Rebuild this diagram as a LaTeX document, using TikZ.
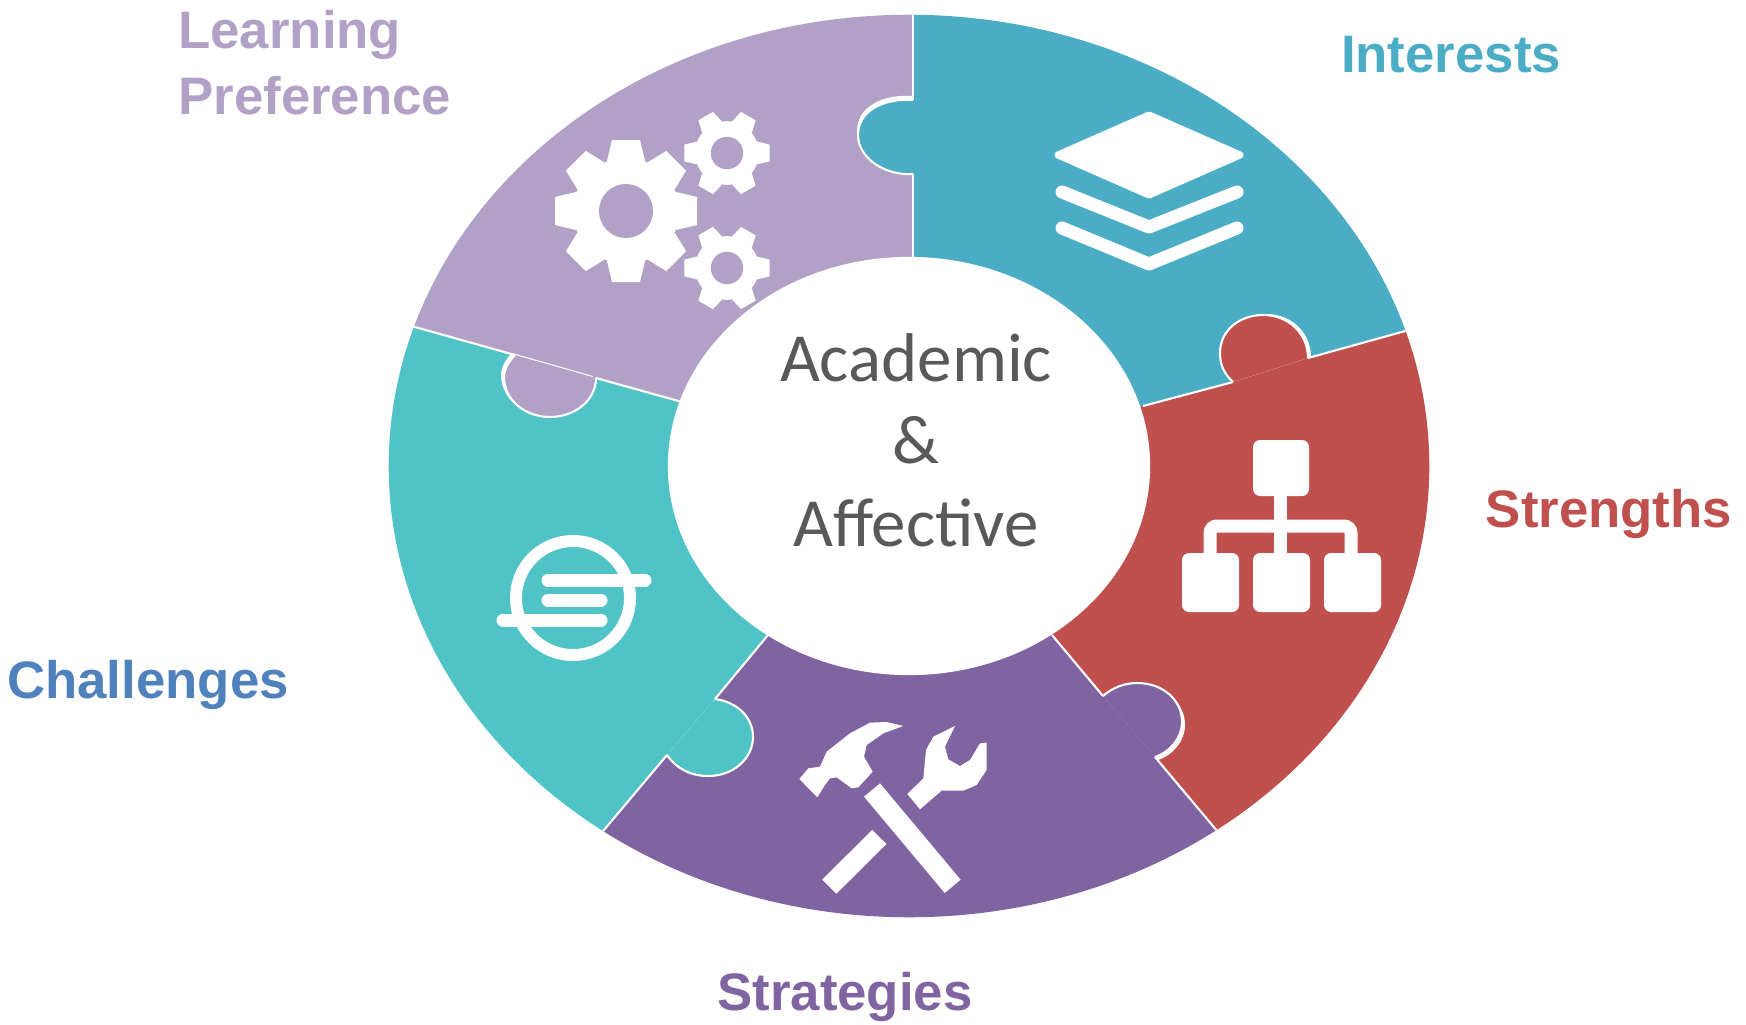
\documentclass[tikz,border=0pt]{standalone}
\usepackage{fontspec}
\setmainfont{Liberation Sans}
\newfontfamily\hubfont{Carlito}
\usetikzlibrary{shapes.geometric}

\definecolor{lilac}{HTML}{B2A1C7}
\definecolor{sky}{HTML}{4BACC6}
\definecolor{brick}{HTML}{C0504D}
\definecolor{violet}{HTML}{8064A2}
\definecolor{aqua}{HTML}{4FC3C6}
\definecolor{steel}{HTML}{4F81BD}
\definecolor{hubgray}{HTML}{595959}

\tikzset{
  seam/.style={white, line width=0.6pt},
  iconline/.style={white, line width=3.7pt, line cap=round, line join=round},
  puzzlelabel/.style={font=\fontsize{15}{18.7}\selectfont\bfseries, align=left},
}

\newcommand{\puzzletab}[3]{%
  \fill[white, shift={#2}] #3 -- cycle;
  \fill[#1] #3 -- cycle;
  \draw[seam] #3;
}
\newcommand{\gearicon}[3]{%
  \begin{scope}[shift={#1}, scale=#2]
    \fill[white] (0,0) circle (0.53cm);
    \foreach \a in {0,#3,...,359}
    \fill[white, rotate=\a] (50,-19) -- (71,-14) -- (71,14) -- (50,19) -- cycle;
    \fill[lilac] (0,0) circle (0.27cm);
  \end{scope}
}

\begin{document}
\begin{tikzpicture}[x=0.01cm, y=-0.01cm]
  \useasboundingbox (0,0) rectangle (1746,1024);

  \begin{scope}
    \clip (909,466) ellipse [x radius=5.2cm, y radius=4.51cm];
    \fill[lilac] (913,-20) -- (913,466) -- (682,402) -- (596,378) -- (515,355) -- (200,267) -- (200,-20) -- cycle;
    \fill[sky] (913,-20) -- (1600,-20) -- (1600,277) -- (1308,358) -- (1233,382) -- (1143,406) -- (913,466) -- cycle;
    \fill[brick] (1600,277) -- (1308,358) -- (1233,382) -- (1143,406) -- (909,466) -- (1052,635) -- (1103,696) -- (1155,757) -- (1359,1000) -- (1600,1000) -- cycle;
    \fill[violet] (909,466) -- (1052,635) -- (1103,696) -- (1155,757) -- (1359,1000) -- (461,1000) -- (667,755) -- (715,699) -- (768,635) -- cycle;
    \fill[aqua] (909,466) -- (768,635) -- (715,699) -- (667,755) -- (461,1000) -- (200,1000) -- (200,267) -- (515,355) -- (596,378) -- (682,402) -- cycle;

    % white joints between the pieces
    \draw[seam] (913,-20) -- (913,100) (913,174) -- (913,300);
    \draw[seam] (1143,406) -- (1233,382) (1308,358) -- (1600,277);
    \draw[seam] (1052,635) -- (1103,696) (1155,757) -- (1359,1000);
    \draw[seam] (768,635) -- (715,699) (667,755) -- (461,1000);
    \draw[seam] (682,402) -- (596,378) (515,355) -- (200,267);

    % tabs
    \puzzletab{sky}{(-1,-4)}{(913,100) .. controls (885,98) and (858,110) .. (858,135) .. controls (858,158) and (885,176) .. (913,174)}
    \puzzletab{brick}{(3,-1)}{(1233,382) .. controls (1222,372) and (1220,362) .. (1220,353) .. controls (1220,330) and (1240,315) .. (1263,315) .. controls (1290,315) and (1308,335) .. (1308,358)}
    \puzzletab{violet}{(3,3)}{(1103,696) .. controls (1112,688) and (1124,683) .. (1137,683) .. controls (1163,683) and (1182,700) .. (1182,722) .. controls (1182,738) and (1170,752) .. (1155,757)}
    \puzzletab{aqua}{(0,0)}{(667,755) .. controls (676,768) and (690,776) .. (708,776) .. controls (734,776) and (753,758) .. (753,737) .. controls (753,717) and (737,702) .. (715,699)}
    \puzzletab{lilac}{(-3,-2)}{(515,355) .. controls (508,362) and (504,370) .. (504,377) .. controls (504,400) and (525,417) .. (550,417) .. controls (575,417) and (596,400) .. (596,378)}
  \end{scope}

  \node[ellipse, fill=white, inner sep=0pt, minimum width=4.82cm, minimum height=4.18cm] (hub) at (909,466) {};
  \node[font=\hubfont\fontsize{19.6}{23.5}\selectfont, text=hubgray, align=center] (hubtext) at (916,440) {Academic\\\&\\Affective};

  % gears
  \gearicon{(626,211)}{1}{45}
  \gearicon{(727,153)}{0.6}{60}
  \gearicon{(727,268)}{0.6}{60}

  % layers
  \fill[white, draw=white, line width=2pt, line join=round] (1058,155) -- (1149,115) -- (1240,155) -- (1149,195) -- cycle;
  \draw[iconline] (1062,192) -- (1149,227) -- (1237,192);
  \draw[iconline] (1062,228) -- (1149,264) -- (1237,228);

  % tree
  \fill[white, rounded corners=2pt] (1253,440) rectangle (1309,496);
  \foreach \x in {1182,1253,1324}
  \fill[white, rounded corners=2pt] (\x,553) rectangle +(57,59);
  \draw[white, line width=3.7pt] (1280,496) -- (1280,553);
  \draw[white, line width=3.7pt, rounded corners=2pt] (1210,553) -- (1210,526) -- (1351,526) -- (1351,553);

  % challenge badge
  \draw[white, line width=3.4pt] (573,598) circle (0.57cm);
  \draw[iconline] (548,580) -- (645,580);
  \draw[iconline] (548,600) -- (601,600);
  \draw[iconline] (503,620) -- (601,620);

  % tools
  \begin{scope}[shift={(770,700)}, scale=0.3333]
    \draw[white, line width=5.9pt] (306,270) -- (548,559);
    \draw[white, line width=5.7pt] (328,411) -- (178,560);
    \fill[white] (88,237) -- (115,205) -- (150,200) -- (170,155) -- (240,100) -- (300,68) -- (350,66) -- (400,78) -- (340,100) -- (290,135) -- (282,170) -- (308,215) -- (265,262) -- (245,265) -- (200,232) -- (180,235) -- (165,255) -- (142,292) -- cycle;
    \fill[white] (412,282) -- (460,235) -- (468,150) -- (490,110) -- (555,78) -- (525,140) -- (535,178) -- (570,198) -- (600,180) -- (630,130) -- (650,128) -- (650,210) -- (620,255) -- (580,272) -- (515,272) -- (450,328) -- cycle;
  \end{scope}

  \node[puzzlelabel, text=lilac, anchor=west] (preference) at (166,63) {Learning\\Preference};
  \node[puzzlelabel, text=sky] (interests) at (1451,55) {Interests};
  \node[puzzlelabel, text=brick] (strengths) at (1609,514) {Strengths};
  \node[puzzlelabel, text=violet] (strategies) at (845,997) {Strategies};
  \node[puzzlelabel, text=steel] (challenges) at (148,685) {Challenges};
\end{tikzpicture}
\end{document}
